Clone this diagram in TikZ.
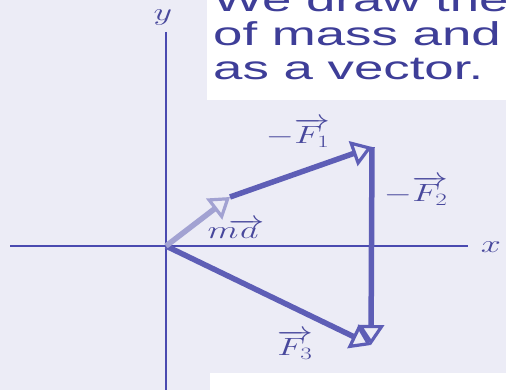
\documentclass[tikz,border=0pt]{standalone}
\usepackage{fontspec}
\usepackage{graphicx}
\usetikzlibrary{arrows.meta}
\newfontfamily\capfont[FakeStretch=1.6]{Liberation Sans}
\definecolor{bg}{HTML}{ECECF6}
\definecolor{txt}{HTML}{3E3E98}
\definecolor{vec}{HTML}{5E5EB6}
\definecolor{axiscol}{HTML}{4A4AB0}
\definecolor{mavec}{HTML}{A2A2D2}
\definecolor{lbl}{HTML}{48489C}
\newcommand{\wm}[1]{\scalebox{1.45}[1]{#1}}
\tikzset{
  axisline/.style={draw=axiscol, line width=1.6pt},
  vecline/.style={draw=vec, line width=5.5pt, -{Triangle[open, length=20pt, width=26pt, line width=3.2pt]}},
  maline/.style={draw=mavec, line width=5.5pt, -{Triangle[open, length=20pt, width=26pt, line width=3.2pt]}},
  vlabel/.style={text=lbl, font=\fontsize{25}{27}\selectfont, inner sep=0pt},
  captext/.style={text=txt, font=\capfont\fontsize{33}{35}\selectfont, anchor=base west, inner sep=0pt},
  whitebox/.style={fill=white, draw=none}
}
\begin{document}
\begin{tikzpicture}[x=1pt, y=-1pt]
\useasboundingbox (0,0) rectangle (506,390);
\clip (0,0) rectangle (506,390);
\fill[bg] (0,0) rectangle (506,390);
% white boxes
\fill[whitebox] (207,0) rectangle (506,100);
\fill[whitebox] (210,373) rectangle (506,390);
\node[captext] (l1) at (213,12) {We draw the center};
\node[captext] (l2) at (213,46) {of mass and};
\node[captext] (l3) at (213,80) {as a vector.};
% axes
\coordinate (O) at (166,246);
\coordinate (ytop) at (166,32);
\coordinate (ybot) at (166,390);
\coordinate (xl) at (10,246);
\coordinate (xr) at (468,246);
\draw[axisline] (ytop) -- (ybot);
\draw[axisline] (xl) -- (xr);
\node[vlabel] (ylab) at (163,18) {\wm{$y$}};
\node[vlabel] (xlab) at (491,247) {\wm{$x$}};
% vectors
\coordinate (A) at (230,197);
\coordinate (B) at (372,147);
\coordinate (E) at (371,345);
\draw[vecline] (O) -- (E);
\draw[vecline] (A) -- (B);
\draw[vecline] (B) -- (E);
\draw[maline] (O) -- (A);
% labels
\node[vlabel] (lF1) at (298,133) {\wm{$-\overrightarrow{F_1}$}};
\node[vlabel] (lma) at (236,229) {\wm{$m\mkern-5mu\overrightarrow{\,a}$}};
\node[vlabel] (lF2) at (416,191) {\wm{$-\overrightarrow{F_2}$}};
\node[vlabel] (lF3) at (295,345) {\wm{$\overrightarrow{F_3}$}};
\end{tikzpicture}
\end{document}
